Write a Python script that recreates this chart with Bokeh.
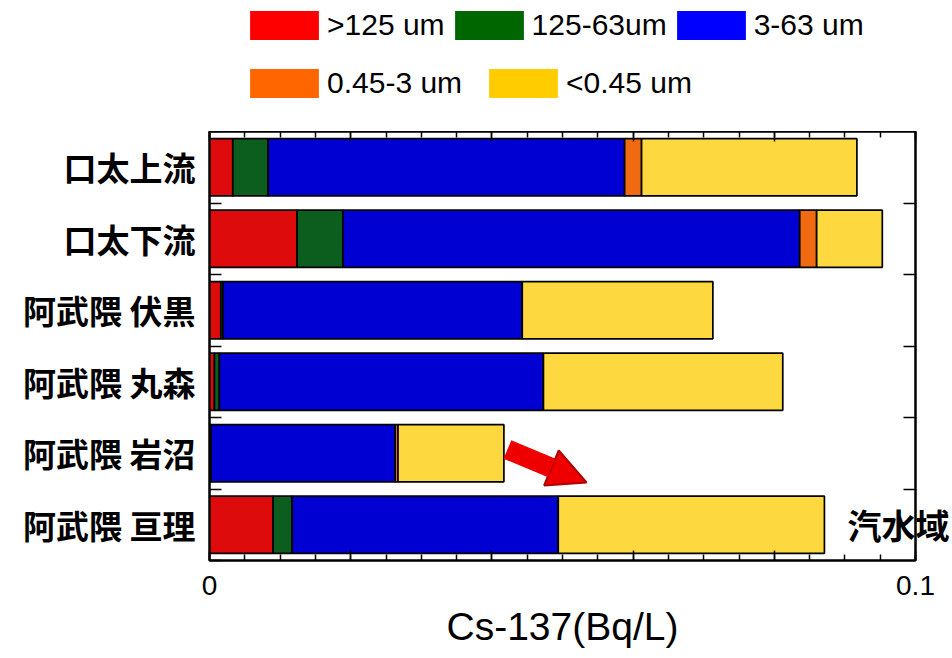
from bokeh.plotting import figure
from bokeh.layouts import column
from bokeh.models import (ColumnDataSource, Range1d, LinearAxis, FixedTicker,
                          CustomJSTickFormatter, Legend, LegendItem, Arrow, NormalHead)
from bokeh.embed import file_html
from bokeh.resources import INLINE

# ---- data (Cs-137, Bq/L) ----
sites = ["口太上流", "口太下流", "阿武隈 伏黒", "阿武隈 丸森", "阿武隈 岩沼", "阿武隈 亘理"]
fractions = [">125 um", "125-63um", "3-63 um", "0.45-3 um", "<0.45 um"]
gt125 = [0.0033, 0.0124, 0.0016, 0.0007, 0.0002, 0.0090]
f125_63 = [0.0050, 0.0065, 0.0003, 0.0007, 0.0000, 0.0027]
f3_63 = [0.0505, 0.0647, 0.0424, 0.0459, 0.0261, 0.0377]
f045_3 = [0.0024, 0.0024, 0.0000, 0.0000, 0.0004, 0.0000]
lt045 = [0.0305, 0.0093, 0.0270, 0.0339, 0.0150, 0.0377]
x_label_values = [0.0, 0.1]
x_label_texts = ["0", "0.1"]
annotation_text = "汽水域"

bar_colors = ["#DD0B0B", "#0B5E1E", "#0000D2", "#F06A12", "#FDD83E"]
legend_colors = ["#FF0000", "#006600", "#0000FF", "#FF6600", "#FFCC00"]

n = len(sites)
ys = [n - 0.5 - i for i in range(n)]
keys = ["c0", "c1", "c2", "c3", "c4"]
src = ColumnDataSource(dict(y=ys, c0=gt125, c1=f125_63, c2=f3_63, c3=f045_3, c4=lt045))

# ---------------- legend strip (its own small figure) ----------------
lg = figure(width=952, height=131, x_range=Range1d(0, 1), y_range=Range1d(0, 1),
            output_backend="svg", toolbar_location=None,
            x_axis_location=None, y_axis_location=None, min_border=0)
lg.outline_line_color = None
lg.xgrid.visible = False
lg.ygrid.visible = False
nan = float("nan")
items = []
for lab, col in zip(fractions, legend_colors):
    # legend-only renderer: a single undefined (NaN) bar is never drawn
    r = lg.hbar(y=[nan], right=[nan], height=0.8, fill_color=col, line_color=None)
    items.append(LegendItem(label=lab, renderers=[r]))
common = dict(orientation="horizontal", glyph_width=86, glyph_height=36,
              label_text_font="Liberation Sans", label_text_font_size="30px",
              label_text_color="black",
              label_standoff=-9, padding=0, margin=0, border_line_color=None,
              background_fill_alpha=0, label_height=30)
lg.add_layout(Legend(items=items[:3], location=(32, 88), spacing=1, **common), "center")
lg.add_layout(Legend(items=items[3:], location=(32, 30), spacing=18, **common), "center")

# ---------------- main chart ----------------
p = figure(width=952, height=527, x_range=Range1d(0, 0.1), y_range=Range1d(0, n),
           output_backend="svg", toolbar_location=None,
           min_border_left=209, min_border_right=35, min_border_top=0, min_border_bottom=98)
p.xgrid.visible = False
p.ygrid.visible = False
p.outline_line_color = "black"
p.outline_line_width = 2

p.hbar_stack(keys, y="y", height=0.8, color=bar_colors, line_color="black",
             line_width=1.7, source=src)

major = [0.0, 0.02, 0.04, 0.06, 0.08, 0.1]
minor = [round(i * 0.005, 4) for i in range(21)]
fmt = CustomJSTickFormatter(args=dict(vals=x_label_values, labs=x_label_texts), code="""
    for (let i = 0; i < vals.length; i++) { if (Math.abs(tick - vals[i]) < 1e-9) return labs[i]; }
    return "";
""")
xa = p.xaxis[0]
xa.ticker = FixedTicker(ticks=major, minor_ticks=minor)
xa.formatter = fmt
xa.major_tick_in = 10
xa.major_tick_out = 0
xa.minor_tick_in = 6
xa.minor_tick_out = 0
xa.axis_line_width = 2
xa.major_tick_line_width = 1.5
xa.minor_tick_line_width = 1.5
xa.major_label_text_font = "Liberation Sans"
xa.major_label_text_font_size = "28px"
xa.major_label_text_color = "black"
xa.major_label_standoff = 15
xa.axis_label = "Cs-137(Bq/L)"
xa.axis_label_text_font = "Liberation Sans"
xa.axis_label_text_font_size = "39px"
xa.axis_label_text_font_style = "normal"
xa.axis_label_text_color = "black"
xa.axis_label_standoff = 7

top = LinearAxis(ticker=FixedTicker(ticks=major, minor_ticks=minor),
                 formatter=CustomJSTickFormatter(code="return '';"),
                 major_label_text_color=None, major_label_standoff=0,
                 major_label_text_font_size="1px",
                 major_tick_in=10, major_tick_out=0, minor_tick_in=6, minor_tick_out=0,
                 axis_line_width=2, major_tick_line_width=1.5, minor_tick_line_width=1.5)
p.add_layout(top, "above")

ya = p.yaxis[0]
ya.ticker = FixedTicker(ticks=ys, minor_ticks=list(range(n + 1)))
ya.formatter = CustomJSTickFormatter(args=dict(labels=sites),
                                     code="return labels[Math.round(labels.length - 0.5 - tick)];")
ya.major_tick_line_color = None
ya.minor_tick_in = 12
ya.minor_tick_out = 0
ya.minor_tick_line_width = 1.5
ya.axis_line_width = 2
ya.major_label_standoff = 8
ya.major_label_text_font = "Noto Sans CJK JP"
ya.major_label_text_font_style = "bold"
ya.major_label_text_font_size = "33px"
ya.major_label_text_color = "black"

# right axis: boundary ticks + the brackish-water label next to the last site
right = LinearAxis(ticker=FixedTicker(ticks=[ys[-1]], minor_ticks=list(range(1, n))),
                   formatter=CustomJSTickFormatter(args=dict(t=annotation_text), code="return t;"),
                   major_tick_line_color=None, minor_tick_in=12, minor_tick_out=0,
                   minor_tick_line_width=1.5, axis_line_width=2,
                   major_label_standoff=-74,
                   major_label_text_font="Noto Sans CJK JP", major_label_text_font_style="bold",
                   major_label_text_font_size="34px", major_label_text_color="black")
p.add_layout(right, "right")

p.add_layout(Arrow(x_start=0.0422, y_start=1.552, x_end=0.0534, y_end=1.091,
                   line_width=20, line_color="#EE0000",
                   end=NormalHead(size=38, fill_color="#EE0000", line_color="#B00000",
                                  line_width=2)))

open("out.html", "w").write(file_html(column(lg, p, spacing=0), INLINE))
